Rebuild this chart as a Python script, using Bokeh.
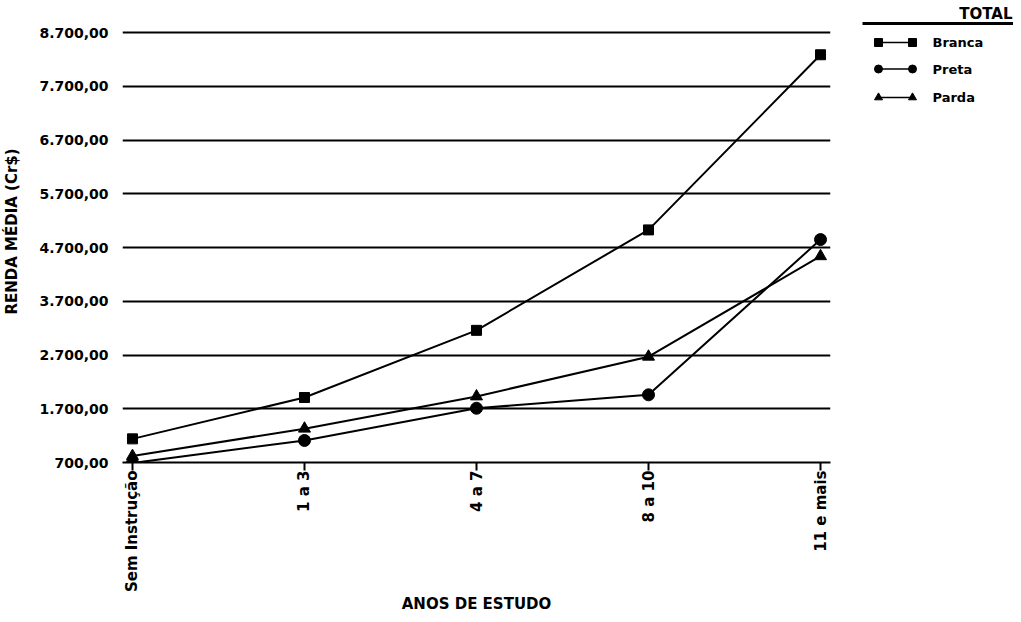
import math
from bokeh.plotting import figure
from bokeh.models import Range1d
from bokeh.layouts import row
from bokeh.embed import file_html
from bokeh.resources import INLINE
from bokeh.core.properties import value

# ---- data ----
categories = ["Sem Instrução", "1 a 3", "4 a 7", "8 a 10", "11 e mais"]
branca = [1140, 1910, 3160, 5030, 8290]
preta = [690, 1110, 1710, 1960, 4850]
parda = [820, 1330, 1930, 2670, 4540]
series_names = ["Branca", "Preta", "Parda"]
y_ticks = [700, 1700, 2700, 3700, 4700, 5700, 6700, 7700, 8700]
y_tick_labels = ["700,00", "1.700,00", "2.700,00", "3.700,00", "4.700,00",
                 "5.700,00", "6.700,00", "7.700,00", "8.700,00"]
x_label = "ANOS DE ESTUDO"
y_label = "RENDA MÉDIA (Cr$)"
legend_title = "TOTAL"

FONT = "DejaVu Sans"
xs = list(range(len(categories)))

H = 616
BOTTOM = 154
FRAME_H = H - BOTTOM            # frame spans from top of canvas to the 700 line
PX_PER_UNIT = 0.05372           # pixels per Cr$ on the y axis
y_top = 700 + FRAME_H / PX_PER_UNIT

p = figure(width=850, height=H, title=None,
           x_range=Range1d(-0.058, len(categories) - 1 + 0.058),
           y_range=Range1d(700, y_top),
           output_backend="svg", toolbar_location=None,
           min_border_left=122, min_border_right=20,
           min_border_top=0, min_border_bottom=BOTTOM)
p.outline_line_color = None
p.background_fill_color = "white"
p.xgrid.visible = False
p.ygrid.grid_line_color = "black"
p.ygrid.grid_line_width = 2

p.yaxis.ticker = y_ticks
p.yaxis.major_label_overrides = {t: l for t, l in zip(y_ticks, y_tick_labels)}
p.yaxis.axis_line_color = None
p.yaxis.major_tick_line_color = None
p.yaxis.minor_tick_line_color = None
p.yaxis.major_label_standoff = 8
p.yaxis.axis_label = y_label
p.yaxis.axis_label_standoff = 15

p.xaxis.ticker = xs
p.xaxis.major_label_overrides = {i: c for i, c in enumerate(categories)}
p.xaxis.major_label_orientation = math.pi / 2
p.xaxis.axis_line_color = "black"
p.xaxis.axis_line_width = 2
p.xaxis.major_tick_line_color = "black"
p.xaxis.major_tick_line_width = 2
p.xaxis.major_tick_out = 8
p.xaxis.major_tick_in = 0
p.xaxis.minor_tick_line_color = None
p.xaxis.major_label_standoff = 0
p.xaxis.axis_label = x_label
p.xaxis.axis_label_standoff = 0

for ax in (p.xaxis[0], p.yaxis[0]):
    ax.major_label_text_font = FONT
    ax.major_label_text_font_style = "bold"
    ax.major_label_text_font_size = "14px"
    ax.major_label_text_color = "black"
    ax.axis_label_text_font = FONT
    ax.axis_label_text_font_style = "bold"
    ax.axis_label_text_font_size = "15px"
    ax.axis_label_text_color = "black"
p.xaxis.major_label_text_font_size = "15px"

markers = ["square", "circle", "triangle"]
sizes = [10, 12, 12]
for vals, mk, sz in zip([branca, preta, parda], markers, sizes):
    p.line(xs, vals, line_color="black", line_width=2)
    p.scatter(xs, vals, marker=mk, size=sz, fill_color="black", line_color="black")

# ---- legend panel (frame aligned with main frame: top of canvas to the 700 line) ----
LW = 163
lg = figure(width=LW, height=H, title=None, x_range=Range1d(0, LW), y_range=Range1d(FRAME_H, 0),
            output_backend="svg", toolbar_location=None,
            x_axis_location=None, y_axis_location=None,
            min_border_left=0, min_border_right=0, min_border_top=0,
            min_border_bottom=BOTTOM)
lg.outline_line_color = None
lg.xgrid.visible = False
lg.ygrid.visible = False

lg.text(x=[LW - 1], y=[13], text=[legend_title], text_align="right",
        text_baseline="middle", text_font=value(FONT), text_font_style="bold",
        text_font_size="15px", text_color="black")
lg.line([12, LW], [23, 23], line_color="black", line_width=3)
row_y = [42, 68.5, 97]
for name, mk, ry in zip(series_names, markers, row_y):
    lg.line([28, 62], [ry, ry], line_color="black", line_width=1.5)
    lg.scatter([28, 62], [ry, ry], marker=mk, size=8, fill_color="black", line_color="black")
    lg.text(x=[82], y=[ry], text=[name], text_align="left", text_baseline="middle",
            text_font=value(FONT), text_font_style="bold", text_font_size="13px",
            text_color="black")

layout = row(p, lg)
open("out.html", "w").write(file_html(layout, INLINE))
